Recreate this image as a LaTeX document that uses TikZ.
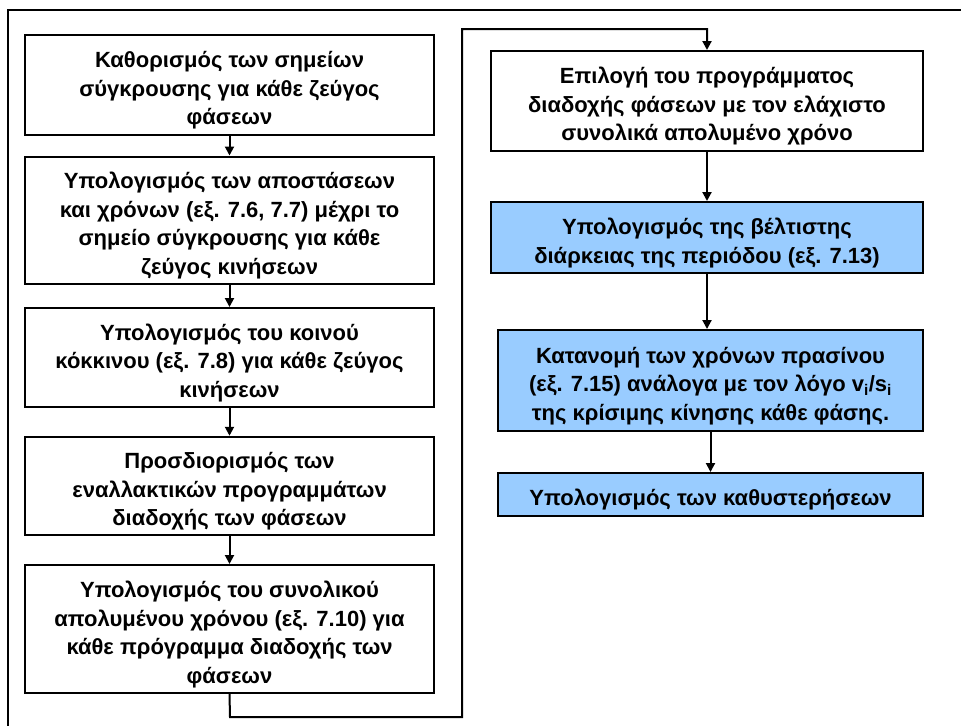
\documentclass[tikz,border=0pt]{standalone}
\usepackage{fontspec}
\setmainfont{Liberation Sans}
\usetikzlibrary{arrows.meta}
\definecolor{boxblue}{HTML}{99CCFF}
\newcommand{\TopSt}{\rule{0pt}{32pt}}
\newcommand{\BotSt}{\rule[-9.5pt]{0pt}{1pt}}
\tikzset{
  x=1pt,y=1pt,
  stepbox/.style={draw=black, line width=2pt, fill=white, inner sep=0pt, align=center,
    font=\bfseries\fontsize{22}{28.5}\selectfont},
  bluebox/.style={stepbox, fill=boxblue},
  conn/.style={line width=2pt, -{Triangle[length=9pt,width=9pt]}},
  framel/.style={line width=2.2pt}
}
\begin{document}
\begin{tikzpicture}
\useasboundingbox (0,0) rectangle (961,-726);
\draw[framel] (961,-10) -- (8,-10) -- (8,-726);

\node[stepbox, minimum width=409, minimum height=100] (b1) at (229.5,-85)
  {\TopSt Καθορισμός των σημείων\\σύγκρουσης για κάθε ζεύγος\\φάσεων\BotSt};
\node[stepbox, minimum width=409, minimum height=126] (b2) at (229.5,-220)
  {\TopSt Υπολογισμός των αποστάσεων\\και χρόνων (εξ. 7.6, 7.7) μέχρι το\\σημείο σύγκρουσης για κάθε\\ζεύγος κινήσεων\BotSt};
\node[stepbox, minimum width=409, minimum height=99] (b3) at (229.5,-357.5)
  {\TopSt Υπολογισμός του κοινού\\κόκκινου (εξ. 7.8) για κάθε ζεύγος\\κινήσεων\BotSt};
\node[stepbox, minimum width=409, minimum height=98] (b4) at (229.5,-486)
  {\TopSt Προσδιορισμός των\\εναλλακτικών προγραμμάτων\\διαδοχής των φάσεων\BotSt};
\node[stepbox, minimum width=409, minimum height=128] (b5) at (229.5,-629)
  {\TopSt Υπολογισμός του συνολικού\\απολυμένου χρόνου (εξ. 7.10) για\\κάθε πρόγραμμα διαδοχής των\\φάσεων\BotSt};

\node[stepbox, minimum width=432, minimum height=100] (b6) at (707,-101)
  {\TopSt Επιλογή του προγράμματος\\διαδοχής φάσεων με τον ελάχιστο\\συνολικά απολυμένο χρόνο\BotSt};
\node[bluebox, minimum width=432, minimum height=71] (b7) at (707,-237.5)
  {\TopSt Υπολογισμός της βέλτιστης\\διάρκειας της περιόδου (εξ. 7.13)\BotSt};
\node[bluebox, minimum width=425, minimum height=101] (b8) at (710.5,-380.5)
  {\TopSt Κατανομή των χρόνων πρασίνου\\(εξ. 7.15) ανάλογα με τον λόγο v\textsubscript{i}/s\textsubscript{i}\\της κρίσιμης κίνησης κάθε φάσης.\BotSt};
\node[bluebox, minimum width=425, minimum height=43] (b9) at (710.5,-494.5)
  {\TopSt Υπολογισμός των καθυστερήσεων\BotSt};

\coordinate (c1) at (230,-717);
\coordinate (c2) at (462,-717);
\coordinate (c3) at (462,-29);
\coordinate (c4) at (707,-29);

\draw[conn] (b1) -- (b2);
\draw[conn] (b2) -- (b3);
\draw[conn] (b3) -- (b4);
\draw[conn] (b4) -- (b5);
\draw[conn] (b5.south) -- (c1) -- (c2) -- (c3) -- (c4) -- (b6.north);
\draw[conn] (b6) -- (b7);
\draw[conn] (b7.south) -- (b7.south |- b8.north);
\draw[conn] (b8) -- (b9);
\end{tikzpicture}
\end{document}
